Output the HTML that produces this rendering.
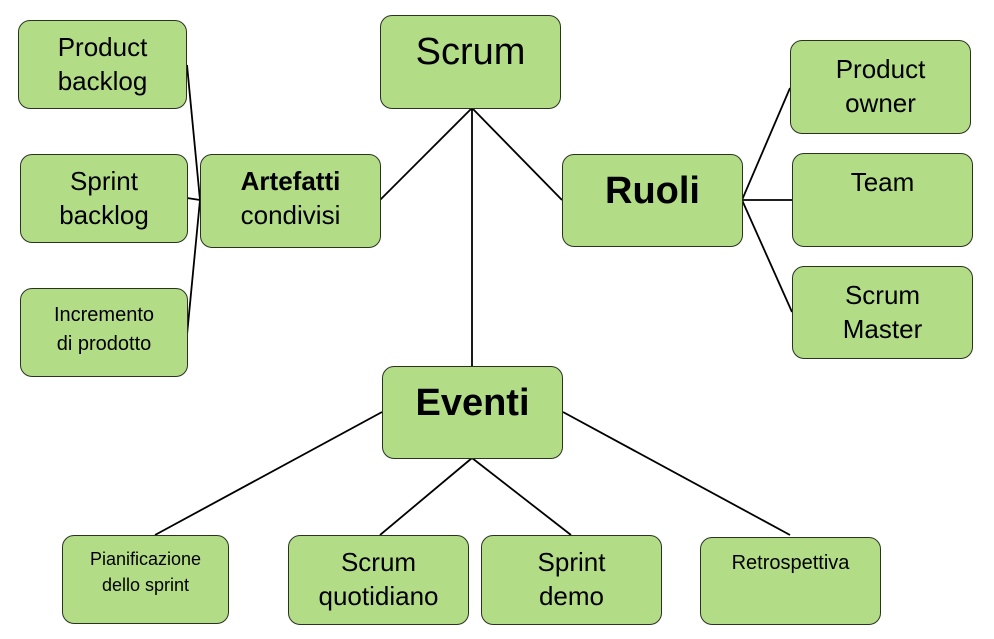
<!DOCTYPE html>
<html><head><meta charset="utf-8"><style>
body{margin:0;width:994px;height:639px;background:#fff;position:relative;overflow:hidden;font-family:"Liberation Sans",sans-serif;}
.b{position:absolute;box-sizing:border-box;background:#b3dc87;border:1.5px solid #2a3320;border-radius:12px;text-align:center;color:#000;line-height:1.3;}
svg{position:absolute;left:0;top:0;}
</style></head><body>
<svg width="994" height="639"><g stroke="#000" stroke-width="1.8" fill="none">
<line x1="187" y1="65" x2="200" y2="200"/><line x1="187" y1="198" x2="200" y2="200"/><line x1="187" y1="335" x2="200" y2="200"/>
<line x1="380" y1="200" x2="472" y2="108"/><line x1="472" y1="108" x2="562" y2="200"/><line x1="472" y1="108" x2="472" y2="366"/>
<line x1="742" y1="200" x2="790" y2="88"/><line x1="742" y1="200" x2="792" y2="200"/><line x1="742" y1="200" x2="792" y2="312"/>
<line x1="382" y1="412" x2="155" y2="535"/><line x1="472" y1="458" x2="380" y2="535"/><line x1="472" y1="458" x2="571" y2="535"/><line x1="563" y1="412" x2="790" y2="535"/>
</g></svg>
<div class="b" style="left:18px;top:20px;width:169px;height:89px;font-size:26px;padding-top:10px">Product<br>backlog</div>
<div class="b" style="left:20px;top:154px;width:168px;height:89px;font-size:26px;padding-top:10px">Sprint<br>backlog</div>
<div class="b" style="left:20px;top:288px;width:168px;height:89px;font-size:20px;padding-top:12px;line-height:1.45">Incremento<br>di prodotto</div>
<div class="b" style="left:200px;top:154px;width:181px;height:94px;font-size:26px;padding-top:10px"><b>Artefatti</b><br>condivisi</div>
<div class="b" style="left:380px;top:15px;width:181px;height:94px;font-size:38px;padding-top:12px">Scrum</div>
<div class="b" style="left:562px;top:154px;width:181px;height:93px;font-size:38px;padding-top:12px;font-weight:bold">Ruoli</div>
<div class="b" style="left:790px;top:40px;width:181px;height:94px;font-size:26px;padding-top:12px">Product<br>owner</div>
<div class="b" style="left:792px;top:153px;width:181px;height:94px;font-size:26px;padding-top:12px">Team</div>
<div class="b" style="left:792px;top:266px;width:181px;height:93px;font-size:26px;padding-top:12px">Scrum<br>Master</div>
<div class="b" style="left:382px;top:366px;width:181px;height:93px;font-size:38px;padding-top:12px;font-weight:bold">Eventi</div>
<div class="b" style="left:62px;top:535px;width:167px;height:89px;font-size:18px;padding-top:10px;line-height:1.45">Pianificazione<br>dello sprint</div>
<div class="b" style="left:288px;top:535px;width:181px;height:90px;font-size:26px;padding-top:10px">Scrum<br>quotidiano</div>
<div class="b" style="left:481px;top:535px;width:181px;height:90px;font-size:26px;padding-top:10px">Sprint<br>demo</div>
<div class="b" style="left:700px;top:537px;width:181px;height:88px;font-size:20px;padding-top:12px">Retrospettiva</div>
</body></html>
